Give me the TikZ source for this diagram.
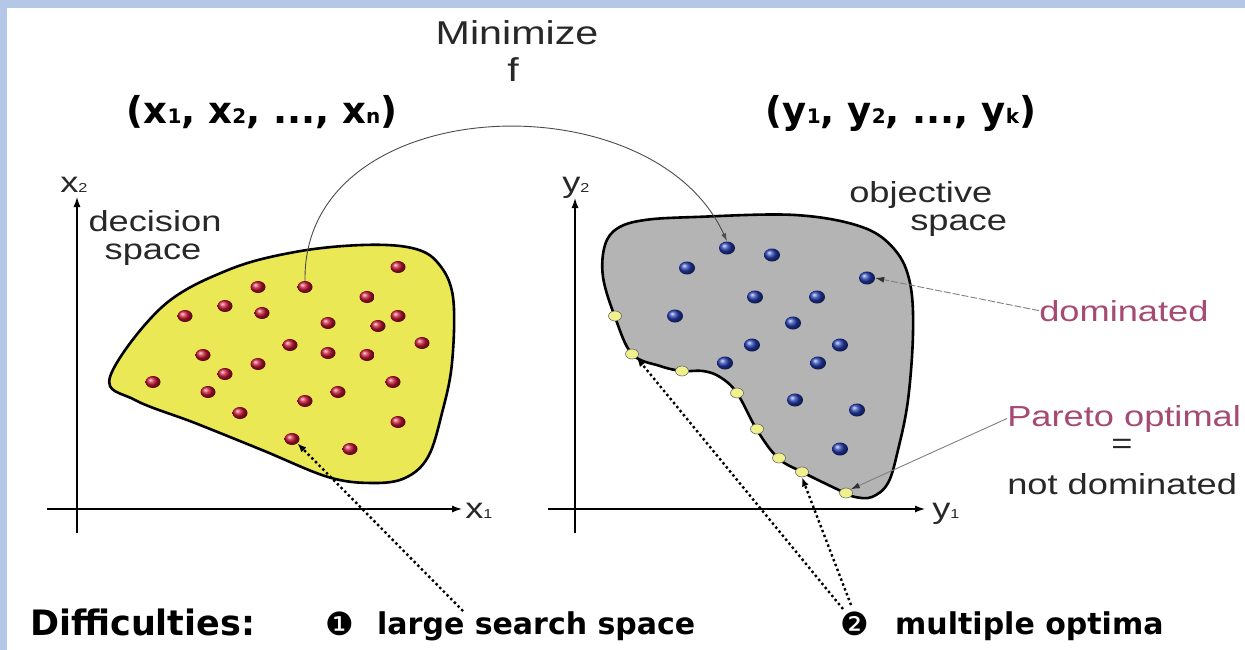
\documentclass[tikz,border=0pt]{standalone}
\usepackage{fontspec}
\setmainfont{Liberation Sans}
\newfontfamily\comicfont{DejaVu Sans}
\usetikzlibrary{shapes.geometric,arrows.meta}
\definecolor{framebg}{RGB}{180,199,231}
\definecolor{blobyellow}{RGB}{234,232,84}
\definecolor{blobgrey}{RGB}{180,180,180}
\definecolor{dotred}{RGB}{200,20,50}
\definecolor{dotblue}{RGB}{35,60,175}
\definecolor{paretoyellow}{RGB}{240,240,140}
\definecolor{mauve}{RGB}{165,75,115}
\definecolor{labelgrey}{RGB}{40,40,40}

\newcommand{\lowdigit}[2][13]{{\fontsize{#1}{#1}\selectfont #2}}

\begin{document}
\begin{tikzpicture}[x=1pt, y=-1pt,
  lbl/.style={font=\fontsize{29}{29}\selectfont, text=labelgrey, inner sep=0pt, xscale=1.25},
  comic/.style={font=\comicfont\bfseries\fontsize{30}{30}\selectfont, inner sep=0pt},
  reddot/.style={ellipse, inner sep=0pt, minimum width=15pt, minimum height=12pt, shading=ball, ball color=dotred},
  bluedot/.style={ellipse, inner sep=0pt, minimum width=16pt, minimum height=13pt, shading=ball, ball color=dotblue},
  paretodot/.style={ellipse, inner sep=0pt, minimum width=13pt, minimum height=10pt, fill=paretoyellow, draw=black!60, line width=0.6pt},
  axis/.style={line width=1.3pt, -{Latex[length=10pt,width=7pt]}},
  dotarrow/.style={line width=2.4pt, dash pattern=on 2.4pt off 2.8pt, -{Latex[length=9pt,width=7pt]}},
  thinarrow/.style={line width=0.9pt, gray, -{Latex[length=9pt,width=6pt,color=black!80]}}]
  \useasboundingbox (0,0) rectangle (1245,650);
  \fill[framebg] (0,0) rectangle (1245,650);
  \fill[white] (7,8) rectangle (1245,650);

  % axes
  \draw[axis] (77,533) -- (77,197);
  \draw[axis] (47,509) -- (462,509);
  \draw[axis] (575,533) -- (575,198);
  \draw[axis] (548,509) -- (925,509);
  \node[lbl, anchor=base west] (xlab2) at (60,192) {x\lowdigit{2}};
  \node[lbl, anchor=base west] (xlab1) at (465,518) {x\lowdigit{1}};
  \node[lbl, anchor=base west] (ylab2) at (562,193) {y\lowdigit{2}};
  \node[lbl, anchor=base west] (ylab1) at (932,518) {y\lowdigit{1}};

  % decision space
  \draw[fill=blobyellow, line width=2.6pt] plot[smooth cycle, tension=0.6] coordinates {
    (110,377) (162,307) (228,270) (295,252) (362,245) (412,248) (438,263)
    (453,297) (452,363) (442,413) (428,457) (405,478) (372,483) (328,477)
    (262,450) (195,423) (135,400)};

  % objective space
  \draw[fill=blobgrey, line width=2.6pt] plot[smooth cycle, tension=0.6] coordinates {
    (618,228) (645,220) (695,217) (795,215) (862,227) (895,250) (910,283)
    (913,333) (908,400) (898,450) (888,483) (872,497) (855,497) (843,492)
    (802,472) (778,458) (757,430) (737,393) (720,377) (703,371) (682,371)
    (660,366) (632,354) (615,317) (603,277) (605,245)};

  \foreach \n/\px/\py in {1/398/267, 2/258/287, 3/305/287, 4/367/297,
    5/225/306, 6/185/316, 7/262/313, 8/398/316, 9/328/323, 10/378/326,
    11/422/343, 12/290/345, 13/328/353, 14/367/355, 15/203/355,
    16/258/364, 17/225/374, 18/153/382, 19/393/382, 20/208/392,
    21/338/392, 22/305/401, 23/240/413, 24/398/422, 25/292/439, 26/350/449}
    \node[reddot] (r\n) at (\px,\py) {};

  \foreach \n/\px/\py in {1/727/248, 2/772/255, 3/687/268, 4/867/278,
    5/755/297, 6/817/297, 7/675/316, 8/793/323, 9/752/345, 10/840/345,
    11/725/363, 12/818/363, 13/795/400, 14/857/410, 15/840/449}
    \node[bluedot] (b\n) at (\px,\py) {};

  \foreach \n/\px/\py in {1/615/316, 2/632/354, 3/682/371, 4/737/393,
    5/757/429, 6/779/458, 7/802/472, 8/846/493}
    \node[paretodot] (p\n) at (\px,\py) {};

  % labels
  \node[lbl, font=\fontsize{33}{33}\selectfont, anchor=base] (title) at (517,45) {Minimize};
  \node[lbl, font=\fontsize{33}{33}\selectfont, anchor=base] (fname) at (513,82) {f};
  \node[comic, font=\comicfont\bfseries\fontsize{37}{37}\selectfont, anchor=base] (xvec) at (262,124)
    {(x\lowdigit[20]{1}, x\lowdigit[20]{2}, ..., x\lowdigit[20]{n})};
  \node[comic, font=\comicfont\bfseries\fontsize{37}{37}\selectfont, anchor=base] (yvec) at (901,124)
    {(y\lowdigit[20]{1}, y\lowdigit[20]{2}, ..., y\lowdigit[20]{k})};
  \node[lbl, anchor=base] (decword) at (155,231) {decision};
  \node[lbl, anchor=base] (decspace) at (153,259) {space};
  \node[lbl, anchor=base west] (objword) at (849,202) {objective};
  \node[lbl, anchor=base west] (objspace) at (910,230) {space};
  \node[lbl, text=mauve, anchor=base west] (domlbl) at (1039,321) {dominated};
  \node[lbl, text=mauve, anchor=base west] (parlbl) at (1007,426) {Pareto optimal};
  \node[lbl, anchor=base] (eqsign) at (1122,453) {=};
  \node[lbl, anchor=base west] (notdom) at (1007,494) {not dominated};

  \node[comic, font=\comicfont\bfseries\fontsize{35}{35}\selectfont, anchor=base west] (diff) at (30,635) {Difficulties:};
  \node[comic, font=\comicfont\fontsize{32}{32}\selectfont] (one) at (340,624) {❶};
  \node[comic, anchor=base west] (lss) at (377,634) {large search space};
  \node[comic, font=\comicfont\fontsize{32}{32}\selectfont] (two) at (855,624) {❷};
  \node[comic, anchor=base west] (mopt) at (895,634) {multiple optima};
  \coordinate (lsstop) at (463,611);
  \coordinate (twoleft) at (843,609);
  \coordinate (tworight) at (851,605);

  % connectors
  \draw[line width=0.9pt, black!70, -{Latex[length=8pt,width=5pt]}]
    (r3.north) .. controls +(-3,-190) and +(-75,-165) .. (b1.north);
  \draw[dotarrow] (lsstop) -- (r25.south east);
  \draw[dotarrow] (twoleft) -- (p2.south east);
  \draw[dotarrow] (tworight) -- (p7.south);
  \draw[thinarrow, dash pattern=on 7pt off 2pt] (domlbl.west) -- (b4.east);
  \draw[thinarrow] (parlbl.west) -- (p8.north east);
\end{tikzpicture}
\end{document}
